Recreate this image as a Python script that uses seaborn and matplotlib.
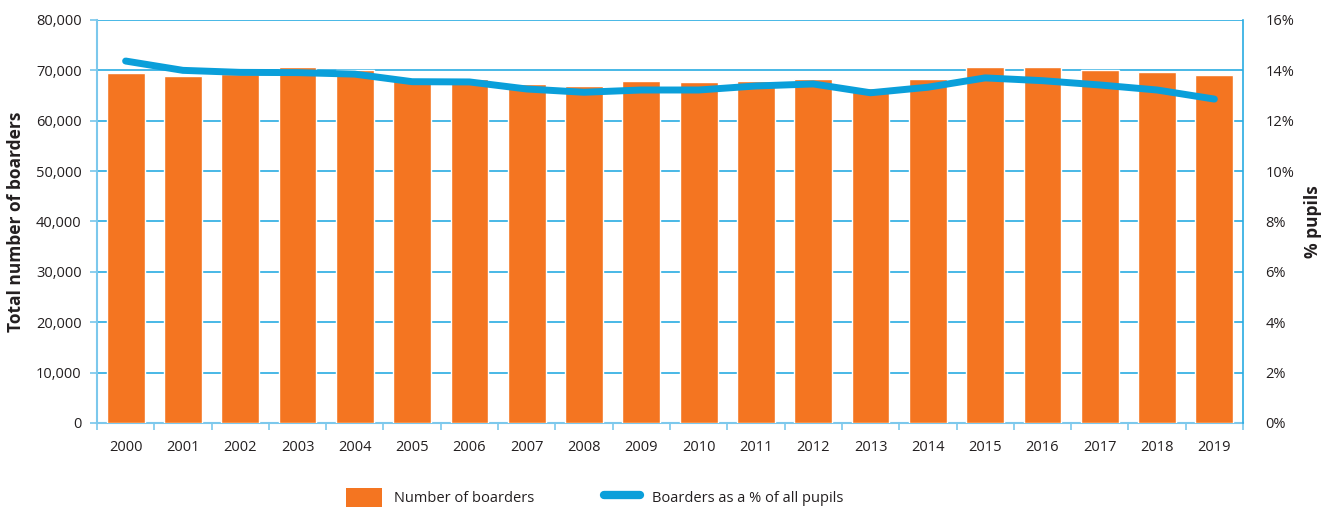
import matplotlib
matplotlib.use("Agg")
import matplotlib.pyplot as plt
import seaborn as sns
import pandas as pd
from matplotlib.ticker import FuncFormatter, FixedLocator
from matplotlib.patches import Patch
from matplotlib.lines import Line2D

years = [str(y) for y in range(2000, 2020)]
boarders = [69400, 68800, 69300, 70700, 70050, 68300, 68300, 67350, 66950, 67900,
            67700, 67900, 68300, 66500, 68300, 70700, 70700, 70000, 69700, 69100]
pct_pupils = [14.37, 14.00, 13.92, 13.91, 13.85, 13.55, 13.54, 13.26, 13.13, 13.22,
              13.22, 13.38, 13.46, 13.11, 13.33, 13.70, 13.59, 13.42, 13.22, 12.86]
left_label = "Total number of boarders"
right_label = "% pupils"
bar_legend = "Number of boarders"
line_legend = "Boarders as a % of all pupils"

ORANGE = "#f47521"
BLUE = "#0a9fda"
GRID = "#29abe2"
SPINE = "#7cc8ec"
TXT = "#231f20"

sns.set_theme(style="white")
plt.rcParams['font.family'] = ['Open Sans', 'DejaVu Sans']

df = pd.DataFrame({"year": years, "boarders": boarders, "pct": pct_pupils})

fig = plt.figure(figsize=(13.3, 5.07), dpi=100)
ax = fig.add_axes([0.0729, 0.1657, 0.8617, 0.7949])

sns.barplot(data=df, x="year", y="boarders", color=ORANGE, saturation=1,
            width=0.66, ax=ax, zorder=3)
ax.set_ylim(0, 80000)
ax.set_xlim(-0.5, len(years) - 0.5)
ax.set_yticks(range(0, 80001, 10000))
ax.yaxis.set_major_formatter(FuncFormatter(lambda v, p: f"{int(v):,}"))
ax.grid(axis="y", color=GRID, linewidth=1.2, zorder=0)
ax.set_axisbelow(True)
ax.set_xlabel("")
ax.set_ylabel(left_label, fontsize=12.5, fontweight="bold", color=TXT, labelpad=8)

ax2 = ax.twinx()
sns.lineplot(x=list(range(len(years))), y=pct_pupils, color=BLUE, linewidth=5,
             ax=ax2, zorder=4, solid_capstyle="round")
ax2.set_ylim(0, 16)
ax2.set_yticks(range(0, 17, 2))
ax2.yaxis.set_major_formatter(FuncFormatter(lambda v, p: f"{int(v)}%"))
ax2.set_ylabel(right_label, fontsize=12.5, fontweight="bold", color=TXT,
               rotation=90, labelpad=7)
ax2.grid(False)

for a in (ax, ax2):
    a.spines["top"].set_visible(False)
ax.spines["left"].set_color(SPINE)
ax.spines["left"].set_linewidth(1.5)
ax.spines["bottom"].set_color(SPINE)
ax.spines["bottom"].set_linewidth(1.5)
ax.spines["right"].set_visible(False)
ax2.spines["left"].set_visible(False)
ax2.spines["bottom"].set_visible(False)
ax2.spines["right"].set_color(GRID)
ax2.spines["right"].set_linewidth(1.2)

ax.tick_params(axis="y", which="major", left=True, length=5, color=SPINE,
               labelsize=10.5, labelcolor=TXT, pad=6)
ax.tick_params(axis="x", which="major", bottom=False, labelsize=10.5,
               labelcolor=TXT, pad=6)
ax.xaxis.set_minor_locator(FixedLocator([i - 0.5 for i in range(len(years) + 1)]))
ax.tick_params(axis="x", which="minor", bottom=True, length=5, color=SPINE, width=1.2)
ax2.tick_params(axis="y", right=False, labelsize=10.5, labelcolor=TXT, pad=10)

handles = [Patch(facecolor=ORANGE, edgecolor="none"),
           Line2D([0], [0], color=BLUE, linewidth=6, solid_capstyle="round")]
fig.legend(handles, [bar_legend, line_legend], loc="lower center",
           bbox_to_anchor=(0.447, -0.025), ncol=2, frameon=False, fontsize=10.5,
           handlelength=2.5, handleheight=1.6, columnspacing=4.8,
           labelcolor=TXT)

fig.savefig("out.png", dpi=100)
